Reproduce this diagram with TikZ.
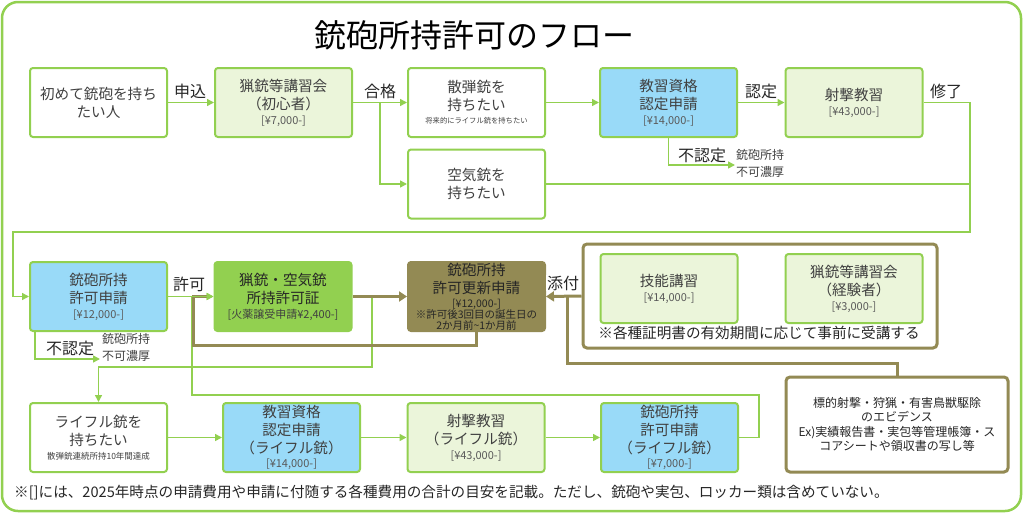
\documentclass[tikz,border=0pt]{standalone}
\usepackage{fontspec}
\setmainfont{Noto Sans CJK JP}
\usetikzlibrary{arrows.meta}
\definecolor{gborder}{HTML}{92D050}
\definecolor{lgfill}{HTML}{EBF5DA}
\definecolor{bfill}{HTML}{99DAF8}
\definecolor{olive}{HTML}{938A54}
\definecolor{txt}{HTML}{404040}
\definecolor{txtd}{HTML}{262626}
\definecolor{prc}{HTML}{595959}
\newcommand\mfs{\fontsize{14.6}{18}\selectfont}
\newcommand\pfs{\fontsize{11}{13}\selectfont\color{prc}}
\newcommand\ifs{\fontsize{10.5}{11}\selectfont}
\begin{document}
\begin{tikzpicture}[x=1pt,y=-1pt,
  box/.style={draw=gborder, line width=2pt, rounded corners=3pt, minimum width=137pt,
    minimum height=69pt, inner sep=0pt, align=center, text=txt, font=\mfs},
  grp/.style={draw=olive, line width=3pt, rounded corners=4pt, fill=white, inner sep=0pt},
  conn/.style={draw=gborder, line width=1.5pt, -{Triangle[width=7pt,length=7pt]}},
  gline/.style={draw=gborder, line width=1.5pt},
  oconn/.style={draw=olive, line width=3pt, -{Triangle[width=10pt,length=8pt]}},
  oline/.style={draw=olive, line width=3pt},
  lbl/.style={font=\fontsize{16}{18}\selectfont, text=txtd, inner sep=1pt},
  ngtxt/.style={font=\fontsize{12}{17}\selectfont, text=txt, align=left, inner sep=0pt, anchor=west}]
\useasboundingbox (0,0) rectangle (1024,514);
\draw[gborder, line width=2.5pt, rounded corners=16pt] (2,2) rectangle (1021,511);
\node[font=\fontsize{32}{36}\selectfont, text=black] (title) at (474,35) {銃砲所持許可のフロー};

% row 1
\node[box,fill=white] (A) at (98.5,102.5) {初めて銃砲を持ち\\たい人};
\node[box,fill=lgfill] (B) at (283.5,102.5) {猟銃等講習会\\（初心者）\\[-3pt]{\pfs [¥7,000-]}};
\node[box,fill=white] (C) at (476.5,102.5) {散弾銃を\\持ちたい\\[-5pt]{\fontsize{7.3}{9}\selectfont 将来的にライフル銃を持ちたい}};
\node[box,fill=white] (D) at (476.5,184) {空気銃を\\持ちたい};
\node[box,fill=bfill] (E) at (668.5,102.5) {教習資格\\認定申請\\[-3pt]{\pfs [¥14,000-]}};
\node[box,fill=lgfill] (F) at (854,102.5) {射撃教習\\[-3pt]{\pfs [¥43,000-]}};

% row 2
\node[box,fill=bfill] (G) at (98.5,296.5) {銃砲所持\\許可申請\\[-3pt]{\pfs [¥12,000-]}};
\node[box,fill=gborder,text=txtd] (H) at (283,296.5) {猟銃・空気銃\\所持許可証\\[-3pt]{\fontsize{11}{13}\selectfont\color{txt}[火薬譲受申請¥2,400-]}};
\node[box,draw=olive,fill=olive,text=txtd] (I) at (476.5,296.5) {銃砲所持\\許可更新申請\\[-4pt]{\ifs [¥12,000-]}\\[-7pt]{\ifs ※許可後3回目の誕生日の}\\[-7pt]{\ifs 2か月前\textasciitilde 1か月前}};
\node[grp, minimum width=354pt, minimum height=104pt] (N) at (760,296) {};
\node[box,fill=lgfill] (O) at (669,288.5) {技能講習\\[-3pt]{\pfs [¥14,000-]}};
\node[box,fill=lgfill] (P) at (854,288.5) {猟銃等講習会\\（経験者）\\[-3pt]{\pfs [¥3,000-]}};
\node[font=\fontsize{14.6}{18}\selectfont, text=txtd, inner sep=0pt] (note) at (759,333) {※各種証明書の有効期間に応じて事前に受講する};
\node[grp, minimum width=222pt, minimum height=95pt, align=center, text=txtd,
  font=\fontsize{12}{14.5}\selectfont] (Q) at (897,424.5) {標的射撃・狩猟・有害鳥獣駆除\\のエビデンス\\Ex)実績報告書・実包等管理帳簿・ス\\コアシートや領収書の写し等};

% row 3
\node[box,fill=white] (J) at (98.5,437.5) {ライフル銃を\\持ちたい\\[-4pt]{\fontsize{8.5}{10}\selectfont 散弾銃連続所持10年間達成}};
\node[box,fill=bfill] (K) at (291.5,437.5) {教習資格\\認定申請\\（ライフル銃）\\[-4pt]{\pfs [¥14,000-]}};
\node[box,fill=lgfill] (L) at (476,437.5) {射撃教習\\（ライフル銃）\\[-3pt]{\pfs [¥43,000-]}};
\node[box,fill=bfill] (M) at (669.5,437.5) {銃砲所持\\許可申請\\（ライフル銃）\\[-4pt]{\pfs [¥7,000-]}};

\node[font=\fontsize{14.6}{17}\selectfont, text=txtd, anchor=west, inner sep=0pt] (foot) at (14,493) {※[]には、2025年時点の申請費用や申請に付随する各種費用の合計の目安を記載。ただし、銃砲や実包、ロッカー類は含めていない。};

% coordinates
\coordinate (s1) at (380,102.5);
\coordinate (r1) at (970,232);
\coordinate (r2) at (13,232);
\coordinate (ng1) at (735,165);
\coordinate (ng2) at (100,359);
\coordinate (gj1) at (372,367);
\coordinate (gm1) at (759,395);
\coordinate (gm2) at (192,395);
\coordinate (ol1) at (193,345);
\coordinate (oq) at (567,363);

% green connectors
\draw[conn] (A) -- (B);
\draw[conn] (B.east) -- (C.west);
\draw[conn] (s1) |- (D.west);
\draw[conn] (C) -- (E);
\draw[conn] (E) -- (F);
\draw[conn] (F.east) -| (r1) -- (r2) |- (G.west);
\draw[gline] (D.east) -- (D.east -| r1);
\draw[conn] (E.south) |- (ng1);
\draw[conn] ([xshift=6pt]G.south west) |- (ng2);
\draw[conn] (H.east) -| (gj1) -| (J.north);
\draw[conn] (M.east) -| (gm1) -- (gm2) |- (H.west);
\draw[conn] (J) -- (K);
\draw[conn] (K) -- (L);
\draw[conn] (L) -- (M);

% olive connectors
\draw[oline] (I.south) |- (ol1) |- ([xshift=-6pt]H.west);
\draw[conn] (G) -- (H);
\draw[oconn] (H.east) -- (I.west);
\draw[oconn] (N.west) -- (I.east);
\draw[oline] (Q.north) |- (oq) -- (oq |- N.west);

% labels
\node[lbl] (l1) at (190,91) {申込};
\node[lbl] (l2) at (380,91) {合格};
\node[lbl] (l3) at (761,91) {認定};
\node[lbl] (l4) at (946,91) {修了};
\node[lbl] (l5) at (702,155) {不認定};
\node[ngtxt] (n1) at (736,163.5) {銃砲所持\\不可濃厚};
\node[lbl] (l6) at (189,284) {許可};
\node[lbl] (l7) at (70,348) {不認定};
\node[ngtxt] (n2) at (102,347) {銃砲所持\\不可濃厚};
\node[lbl, fill=white] (l8) at (563,283) {添付};
\end{tikzpicture}
\end{document}
